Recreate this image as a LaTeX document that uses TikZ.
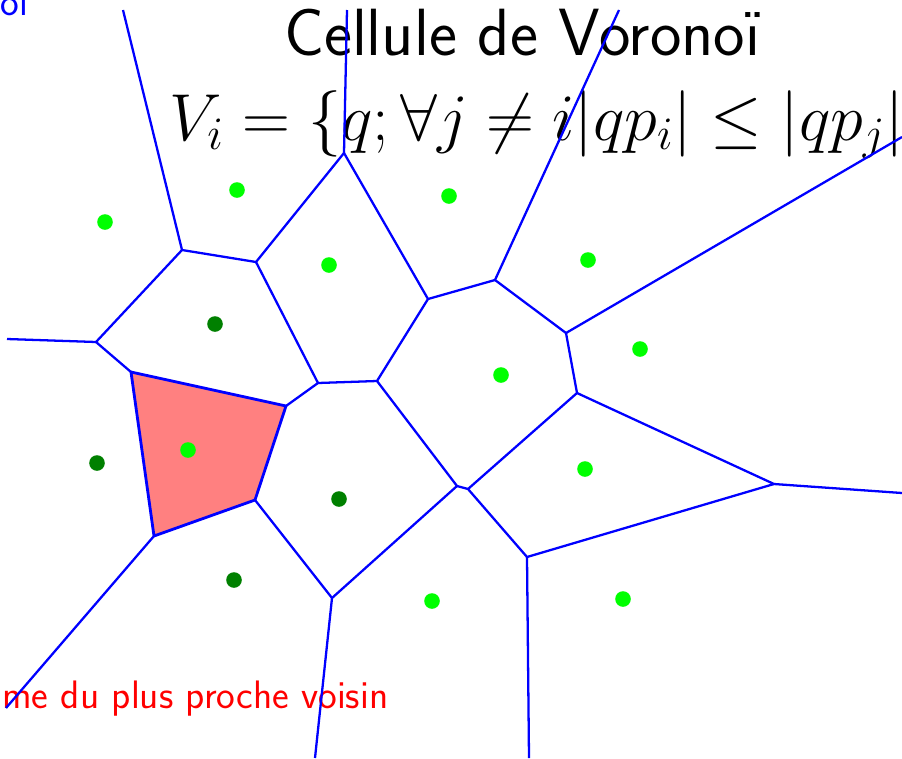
\RequirePackage{fix-cm}
\documentclass[tikz,border=0pt]{standalone}
\usepackage{xcolor}
\usepackage{tikz}

\begin{document}
\begin{tikzpicture}[x=0.02cm,y=-0.02cm]
  % Voronoi diagram, 1 unit = 1 px, y pointing down
  \useasboundingbox (0,0) rectangle (902,758);
  % Texts (drawn first, edges go over them)
  \node[font=\sffamily\fontsize{38}{42}\selectfont, anchor=base] (title) at (522,55) {Cellule de Voronoï};
  \node[font=\fontsize{37.8}{42}\selectfont, anchor=base west, inner sep=0pt] (formula) at (169,140) {$V_i=\{q;\forall j\neq i|qp_i|\leq|qp_j|$};
  \node[font=\sffamily\fontsize{22.6}{26}\selectfont, text=blue, anchor=base west, inner sep=0pt] (diag) at (0,15) {oi};
  \node[font=\sffamily\fontsize{22.6}{26}\selectfont, text=red, anchor=base west, inner sep=0pt] (algo) at (2,708) {me du plus proche voisin};
  % Voronoi vertices
  \coordinate (vA) at (182,250);
  \coordinate (vB) at (256,262);
  \coordinate (vC) at (344,153);
  \coordinate (vD) at (96,342);
  \coordinate (vE) at (131,372);
  \coordinate (vF) at (318,383);
  \coordinate (vG) at (377,381);
  \coordinate (vH) at (428,299);
  \coordinate (vI) at (495,280);
  \coordinate (vJ) at (566,333);
  \coordinate (vK) at (577,393);
  \coordinate (vL) at (286,406);
  \coordinate (vM) at (255,500);
  \coordinate (vN) at (154,536);
  \coordinate (vO) at (457,486);
  \coordinate (vP) at (468,489);
  \coordinate (vQ) at (332,598);
  \coordinate (vR) at (527,557);
  \coordinate (vS) at (774,484);
  % Free ends of the infinite edges
  \coordinate (eA) at (123,10);
  \coordinate (eC) at (347,10);
  \coordinate (eI) at (619,10);
  \coordinate (eJ) at (902,137);
  \coordinate (eD) at (7,339);
  \coordinate (eN) at (6,708);
  \coordinate (eQ) at (315,758);
  \coordinate (eR) at (529,758);
  \coordinate (eS) at (902,493);
  % Highlighted cell
  \fill[red!50] (vE) -- (vL) -- (vM) -- (vN) -- cycle;
  % Edges
  \draw[blue, line width=1.3pt] (vA)--(vB);\draw[blue, line width=1.3pt] (vA)--(vD);\draw[blue, line width=1.3pt] (vA)--(eA);
  \draw[blue, line width=1.3pt] (vB)--(vC);\draw[blue, line width=1.3pt] (vB)--(vF);
  \draw[blue, line width=1.3pt] (vC)--(vH);\draw[blue, line width=1.3pt] (vC)--(eC);
  \draw[blue, line width=1.3pt] (vD)--(vE);\draw[blue, line width=1.3pt] (vD)--(eD);
  \draw[blue, line width=1.3pt] (vL)--(vF);\draw[blue, line width=1.3pt] (vF)--(vG);
  \draw[blue, line width=1.3pt] (vG)--(vH);\draw[blue, line width=1.3pt] (vG)--(vO);
  \draw[blue, line width=1.3pt] (vH)--(vI);
  \draw[blue, line width=1.3pt] (vI)--(vJ);\draw[blue, line width=1.3pt] (vI)--(eI);
  \draw[blue, line width=1.3pt] (vJ)--(vK);\draw[blue, line width=1.3pt] (vJ)--(eJ);
  \draw[blue, line width=1.3pt] (vK)--(vP);\draw[blue, line width=1.3pt] (vK)--(vS);
  \draw[blue, line width=1.3pt] (vO)--(vP);\draw[blue, line width=1.3pt] (vO)--(vQ);
  \draw[blue, line width=1.3pt] (vP)--(vR);
  \draw[blue, line width=1.3pt] (vM)--(vQ);\draw[blue, line width=1.3pt] (vQ)--(eQ);
  \draw[blue, line width=1.3pt] (vN)--(eN);
  \draw[blue, line width=1.3pt] (vR)--(vS);\draw[blue, line width=1.3pt] (vR)--(eR);
  \draw[blue, line width=1.3pt] (vS)--(eS);
  \draw[blue, line width=1.6pt, line join=round] (vE) -- (vL) -- (vM) -- (vN) -- cycle;
  % Sites
  \foreach \p in {(105,222),(237,190),(329,265),(449,196),(588,260),(640,349),(501,375),(585,469),(188,450),(432,601),(623,599)} {
    \fill[green] \p circle (7.8);
  }
  % Nearest neighbours of the highlighted site
  \foreach \p in {(215,324),(97,463),(339,499),(234,580)} {
    \fill[green!50!black] \p circle (7.8);
  }
\end{tikzpicture}
\end{document}
